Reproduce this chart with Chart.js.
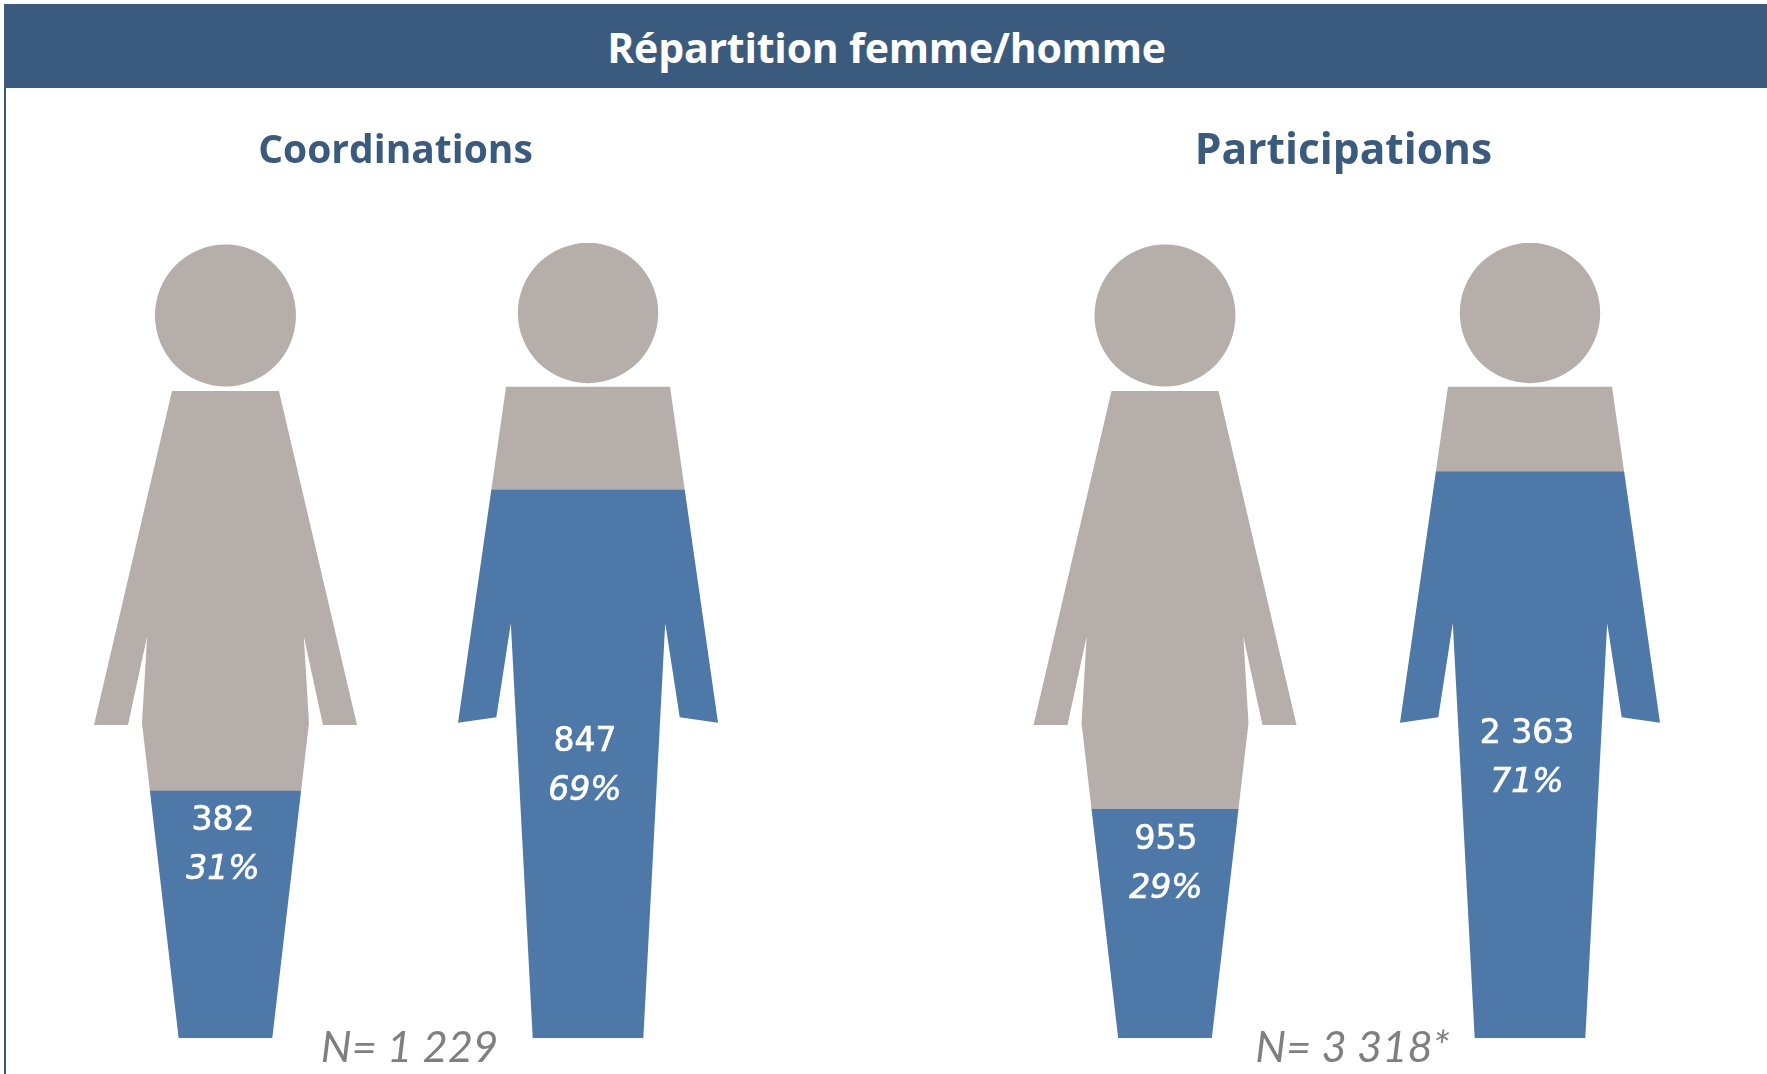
<!DOCTYPE html>
<html lang="fr">
<head>
<meta charset="utf-8">
<title>Répartition femme/homme</title>
<script src="https://cdn.jsdelivr.net/npm/chart.js@4"></script>
<style>
html,body{margin:0;padding:0;background:#fff;width:1767px;height:1074px;overflow:hidden}
#header{position:absolute;left:4px;top:4px;width:1763px;height:84px;background:#3b5b7e;color:#fff;
  font:700 41px "Open Sans",sans-serif;line-height:86px;text-align:center;white-space:nowrap;letter-spacing:-.2px;text-indent:2px}
#rule{position:absolute;left:4px;top:88px;width:2px;height:986px;background:#3b5b7e}
canvas{position:absolute;top:0}
</style>
</head>
<body>
<div id="header">Répartition femme/homme</div>
<div id="rule"></div>
<canvas id="coord" style="left:0;width:790px;height:1074px" width="790" height="1074"></canvas>
<canvas id="part" style="left:920px;width:847px;height:1074px" width="847" height="1074"></canvas>
<script>
// ---- data ----
const figures = ['Femmes', 'Hommes'];
const coordinationCounts = [382, 847];
const coordinationShares = ['31%', '69%'];
const coordinationTotal = 1229;
const coordinationNote = 'N= 1 229';
const participationCounts = [955, 2363];
const participationShares = ['29%', '71%'];
const participationTotal = 3318;
const participationNote = 'N= 3 318*';
const countLabelsCoordination = ['382', '847'];
const countLabelsParticipation = ['955', '2 363'];

// ---- styling ----
const BLUE = '#4e78a8', GRAY = '#b6aeaa', NAVY = '#3b5b7e', NOTE = '#7f7f7f';
const SHAPE_HEIGHT = 795.3; // drawing units of the silhouettes, foot to top of head
const SILHOUETTES = [
  { head: [722.8, 70.5, 71], side: [[53.5,647.3],[131.5,313.3],[97.5,313.3],[78.3,402],[83.5,315.3],[46.8,0]] },
  { head: [725.3, 70.2, 70.2], side: [[82,651.5],[130,315.6],[91.7,321],[77.2,415],[55.3,0]] }
];
const FONT_NUM = '400 33px "DejaVu Sans", sans-serif';
const FONT_PCT = 'italic 400 33px "DejaVu Sans", sans-serif';
const FONT_NOTE = 'italic 400 43.5px Lato, sans-serif';

function silhouettePath(ctx, cx, footY, k, s) {
  ctx.moveTo(cx + s.side[0][0]*k, footY - s.side[0][1]*k);
  s.side.forEach(p => ctx.lineTo(cx + p[0]*k, footY - p[1]*k));
  s.side.slice().reverse().forEach(p => ctx.lineTo(cx - p[0]*k, footY - p[1]*k));
  ctx.closePath();
  const hy = footY - s.head[0]*k;
  ctx.moveTo(cx + s.head[1]*k, hy);
  ctx.ellipse(cx, hy, s.head[1]*k, s.head[2]*k, 0, 0, Math.PI*2);
}

const pictogram = {
  id: 'pictogram',
  beforeDatasetsDraw(chart) {
    const { ctx, scales: { x, y } } = chart;
    const footY = y.getPixelForValue(0);
    const k = (footY - y.getPixelForValue(y.max)) / SHAPE_HEIGHT;
    ctx.save();
    ctx.beginPath();
    SILHOUETTES.forEach((s, i) => silhouettePath(ctx, x.getPixelForValue(i), footY, k, s));
    ctx.clip();
  },
  afterDatasetsDraw(chart, args, opts) {
    const { ctx, scales: { x, y } } = chart;
    ctx.restore();
    const footY = y.getPixelForValue(0);
    ctx.save();
    ctx.textAlign = 'center';
    ctx.textBaseline = 'middle';
    ctx.fillStyle = '#fff';
    ctx.strokeStyle = '#fff';
    ctx.lineWidth = 0.7;
    opts.counts.forEach((txt, i) => {
      const px = x.getPixelForValue(i) + opts.labelDx[i];
      const py = footY - opts.labelRise[i] + 3.4;
      ctx.font = FONT_NUM;
      ctx.fillText(txt, px, py);
      ctx.strokeText(txt, px, py);
      ctx.font = FONT_PCT;
      ctx.fillText(opts.shares[i], px, py + 49);
      ctx.strokeText(opts.shares[i], px, py + 49);
    });
    ctx.fillStyle = NOTE;
    ctx.font = FONT_NOTE;
    ctx.fillText(opts.note, opts.noteX, 1048);
    ctx.fillStyle = NAVY;
    ctx.font = '700 ' + opts.headingSize + 'px "Open Sans", sans-serif';
    ctx.fillText(opts.heading, opts.headingX, 152);
    ctx.restore();
  }
};

function makeChart(id, heading, headingSize, headingX, counts, total, countLabels, shares, note, padL, padR, labelDx, labelRise, noteX) {
  new Chart(document.getElementById(id), {
    type: 'bar',
    data: {
      labels: figures,
      datasets: [
        { label: heading, data: counts, backgroundColor: BLUE, stack: 's' },
        { label: 'Reste', data: counts.map(v => total - v), backgroundColor: GRAY, stack: 's' }
      ]
    },
    plugins: [pictogram],
    options: {
      responsive: false,
      animation: false,
      events: [],
      datasets: { bar: { categoryPercentage: 1, barPercentage: 1, borderWidth: 0 } },
      layout: { padding: { left: padL, right: padR, top: 243, bottom: 35.7 } },
      scales: {
        x: { display: false, stacked: true },
        y: { display: false, stacked: true, min: 0, max: total }
      },
      plugins: {
        legend: { display: false },
        tooltip: { enabled: false },
        title: { display: false },
        pictogram: { counts: countLabels, shares, note, labelDx, labelRise, noteX, heading, headingSize, headingX }
      }
    }
  });
}

makeChart('coord', 'Coordinations', 39, 395.5, coordinationCounts, coordinationTotal, countLabelsCoordination,
  coordinationShares, coordinationNote, 44.2, 20.7, [-2.5, -3], [220.3, 299.3], 409.5);
makeChart('part', 'Participations', 42.5, 423.5, participationCounts, participationTotal, countLabelsParticipation,
  participationShares, participationNote, 62.5, 54.5, [1, -3], [201.6, 307.6], 432.5);
</script>
</body>
</html>
